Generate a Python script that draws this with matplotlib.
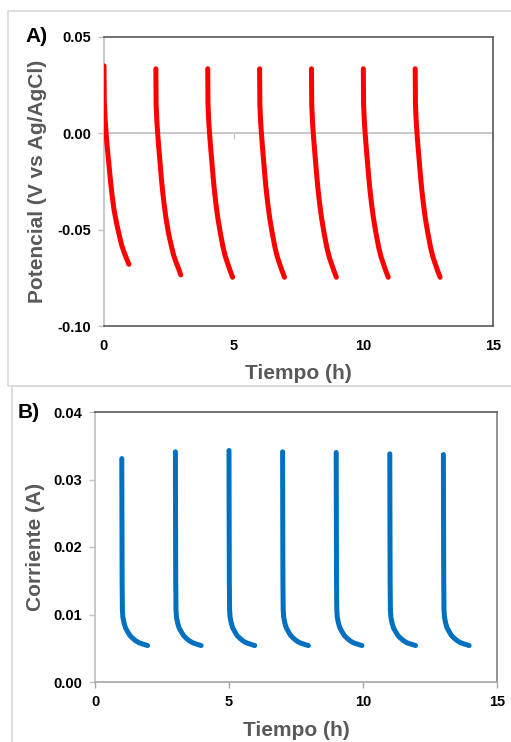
import matplotlib
matplotlib.use("Agg")
import matplotlib.pyplot as plt
from matplotlib.patches import Rectangle

plt.rcParams['font.family'] = ['Liberation Sans', 'DejaVu Sans']

# ---- Panel A: potential vs time ----
pot_starts = [0, 2, 4, 6, 8, 10, 12]
pot_rel_t = [0.0, 0.01, 0.04, 0.07, 0.11, 0.16, 0.21, 0.26, 0.32, 0.39, 0.49, 0.59, 0.68, 0.78, 0.87, 0.96]
pot_values = [
    [0.035, 0.017, 0.008, 0.002, -0.005, -0.012, -0.019, -0.026, -0.033, -0.040, -0.047, -0.053, -0.058, -0.062, -0.065, -0.068],
    [0.0335, 0.015, 0.006, 0.0, -0.007, -0.015, -0.023, -0.030, -0.037, -0.044, -0.052, -0.058, -0.063, -0.067, -0.070, -0.0735],
    [0.0335, 0.015, 0.006, 0.0, -0.007, -0.015, -0.023, -0.030, -0.037, -0.044, -0.052, -0.059, -0.064, -0.068, -0.0715, -0.0747],
    [0.0335, 0.015, 0.006, 0.0, -0.007, -0.015, -0.023, -0.030, -0.037, -0.044, -0.052, -0.059, -0.064, -0.068, -0.0715, -0.0747],
    [0.0335, 0.015, 0.006, 0.0, -0.007, -0.015, -0.023, -0.030, -0.037, -0.044, -0.052, -0.059, -0.064, -0.068, -0.0715, -0.0747],
    [0.0335, 0.015, 0.006, 0.0, -0.007, -0.015, -0.023, -0.030, -0.037, -0.044, -0.052, -0.059, -0.064, -0.068, -0.0715, -0.0747],
    [0.0335, 0.015, 0.006, 0.0, -0.007, -0.015, -0.023, -0.030, -0.037, -0.044, -0.052, -0.059, -0.064, -0.068, -0.0715, -0.0747],
]

# ---- Panel B: current vs time ----
cur_starts = [1, 3, 5, 7, 9, 11, 13]
cur_rel_t = [0.0, 0.005, 0.012, 0.022, 0.04, 0.086, 0.14, 0.21, 0.30, 0.40, 0.52, 0.65, 0.80, 0.96]
cur_tail = [0.025, 0.015, 0.0107, 0.0096, 0.0087, 0.0080, 0.0075, 0.0069, 0.0065, 0.0061, 0.0058, 0.0056, 0.0054]
cur_peaks = [0.0331, 0.0341, 0.0343, 0.0341, 0.0340, 0.0338, 0.0337]

x_ticks = [0, 5, 10, 15]
pot_yticks = [-0.10, -0.05, 0.00, 0.05]
cur_yticks = [0.00, 0.01, 0.02, 0.03, 0.04]

W, H = 511, 742
fig = plt.figure(figsize=(W / 100, H / 100), dpi=100)

# panel boxes
fig.patches.append(Rectangle((8 / W, 1 - 386 / H), 520 / W, 375 / H, transform=fig.transFigure,
                             fill=False, edgecolor='#d9d9d9', linewidth=1.2))
fig.patches.append(Rectangle((12 / W, 1 - 760 / H), 520 / W, 374 / H, transform=fig.transFigure,
                             fill=False, edgecolor='#d9d9d9', linewidth=1.2))

dark = '#595959'
light = '#bfbfbf'
label_color = '#595959'
tick_fs = 10.5
label_fs = 15


def style_axes(ax, xlim, ylim, yticks, yfmt, right_color):
    ax.set_xlim(*xlim)
    ax.set_ylim(*ylim)
    ax.set_xticks(x_ticks)
    ax.set_xticklabels([str(v) for v in x_ticks], fontsize=tick_fs, fontweight='bold')
    ax.set_yticks(yticks)
    ax.set_yticklabels([yfmt.format(v) for v in yticks], fontsize=tick_fs, fontweight='bold')
    ax.tick_params(axis='x', length=0, pad=9)
    ax.tick_params(axis='y', direction='out', length=4, color=light, width=1, pad=5)
    ax.spines['left'].set_color(light)
    ax.spines['top'].set_color(dark)
    ax.spines['right'].set_color(right_color)
    for s in ax.spines.values():
        s.set_linewidth(1.2)


# ---- Top axes ----
ax1 = fig.add_axes([104 / W, 1 - 326 / H, (493 - 104) / W, (326 - 37) / H])
ax1.axhline(0, color='#c4c4c4', linewidth=1.3, zorder=1)
for st, vals in zip(pot_starts, pot_values):
    ax1.plot([st + r for r in pot_rel_t], vals, color='#ff0000', linewidth=3.6,
             solid_capstyle='round', solid_joinstyle='round', zorder=3)
style_axes(ax1, (0, 15), (-0.10, 0.05), pot_yticks, '{:.2f}', dark)
ax1.spines['bottom'].set_color(dark)
zero_pos = (0 - (-0.10)) / 0.15
sec = ax1.secondary_xaxis(zero_pos)
sec.set_alignment('bottom')
sec.set_xticks(x_ticks)
sec.tick_params(axis='x', direction='out', length=4, color='#c4c4c4', labelbottom=False, labeltop=False)
for s in sec.spines.values():
    s.set_visible(False)
ax1.set_xlabel('Tiempo (h)', fontsize=label_fs, fontweight='bold', color=label_color, labelpad=8)
ax1.set_ylabel('Potencial (V vs Ag/AgCl)', fontsize=label_fs, fontweight='bold', color=label_color,
               labelpad=8)
fig.text(25 / W, 1 - 37 / H, 'A)', fontsize=15, fontweight='bold', ha='left', va='center')

# ---- Bottom axes ----
ax2 = fig.add_axes([95 / W, 1 - 682 / H, (497 - 95) / W, (682 - 412) / H])
for st, pk in zip(cur_starts, cur_peaks):
    ax2.plot([st + r for r in cur_rel_t], [pk] + cur_tail, color='#0070c0', linewidth=3.6,
             solid_capstyle='round', solid_joinstyle='round', zorder=3)
style_axes(ax2, (0, 15), (0.0, 0.04), cur_yticks, '{:.2f}', '#808080')
ax2.spines['bottom'].set_color('#a6a6a6')
ax2.tick_params(axis='x', direction='out', length=4, color='#a6a6a6', width=1, pad=5)
ax2.set_xlabel('Tiempo (h)', fontsize=label_fs, fontweight='bold', color=label_color, labelpad=9)
ax2.set_ylabel('Corriente (A)', fontsize=label_fs, fontweight='bold', color=label_color, labelpad=6)
fig.text(18 / W, 1 - 412 / H, 'B)', fontsize=15, fontweight='bold', ha='left', va='center')

fig.savefig('out.png', dpi=100)
